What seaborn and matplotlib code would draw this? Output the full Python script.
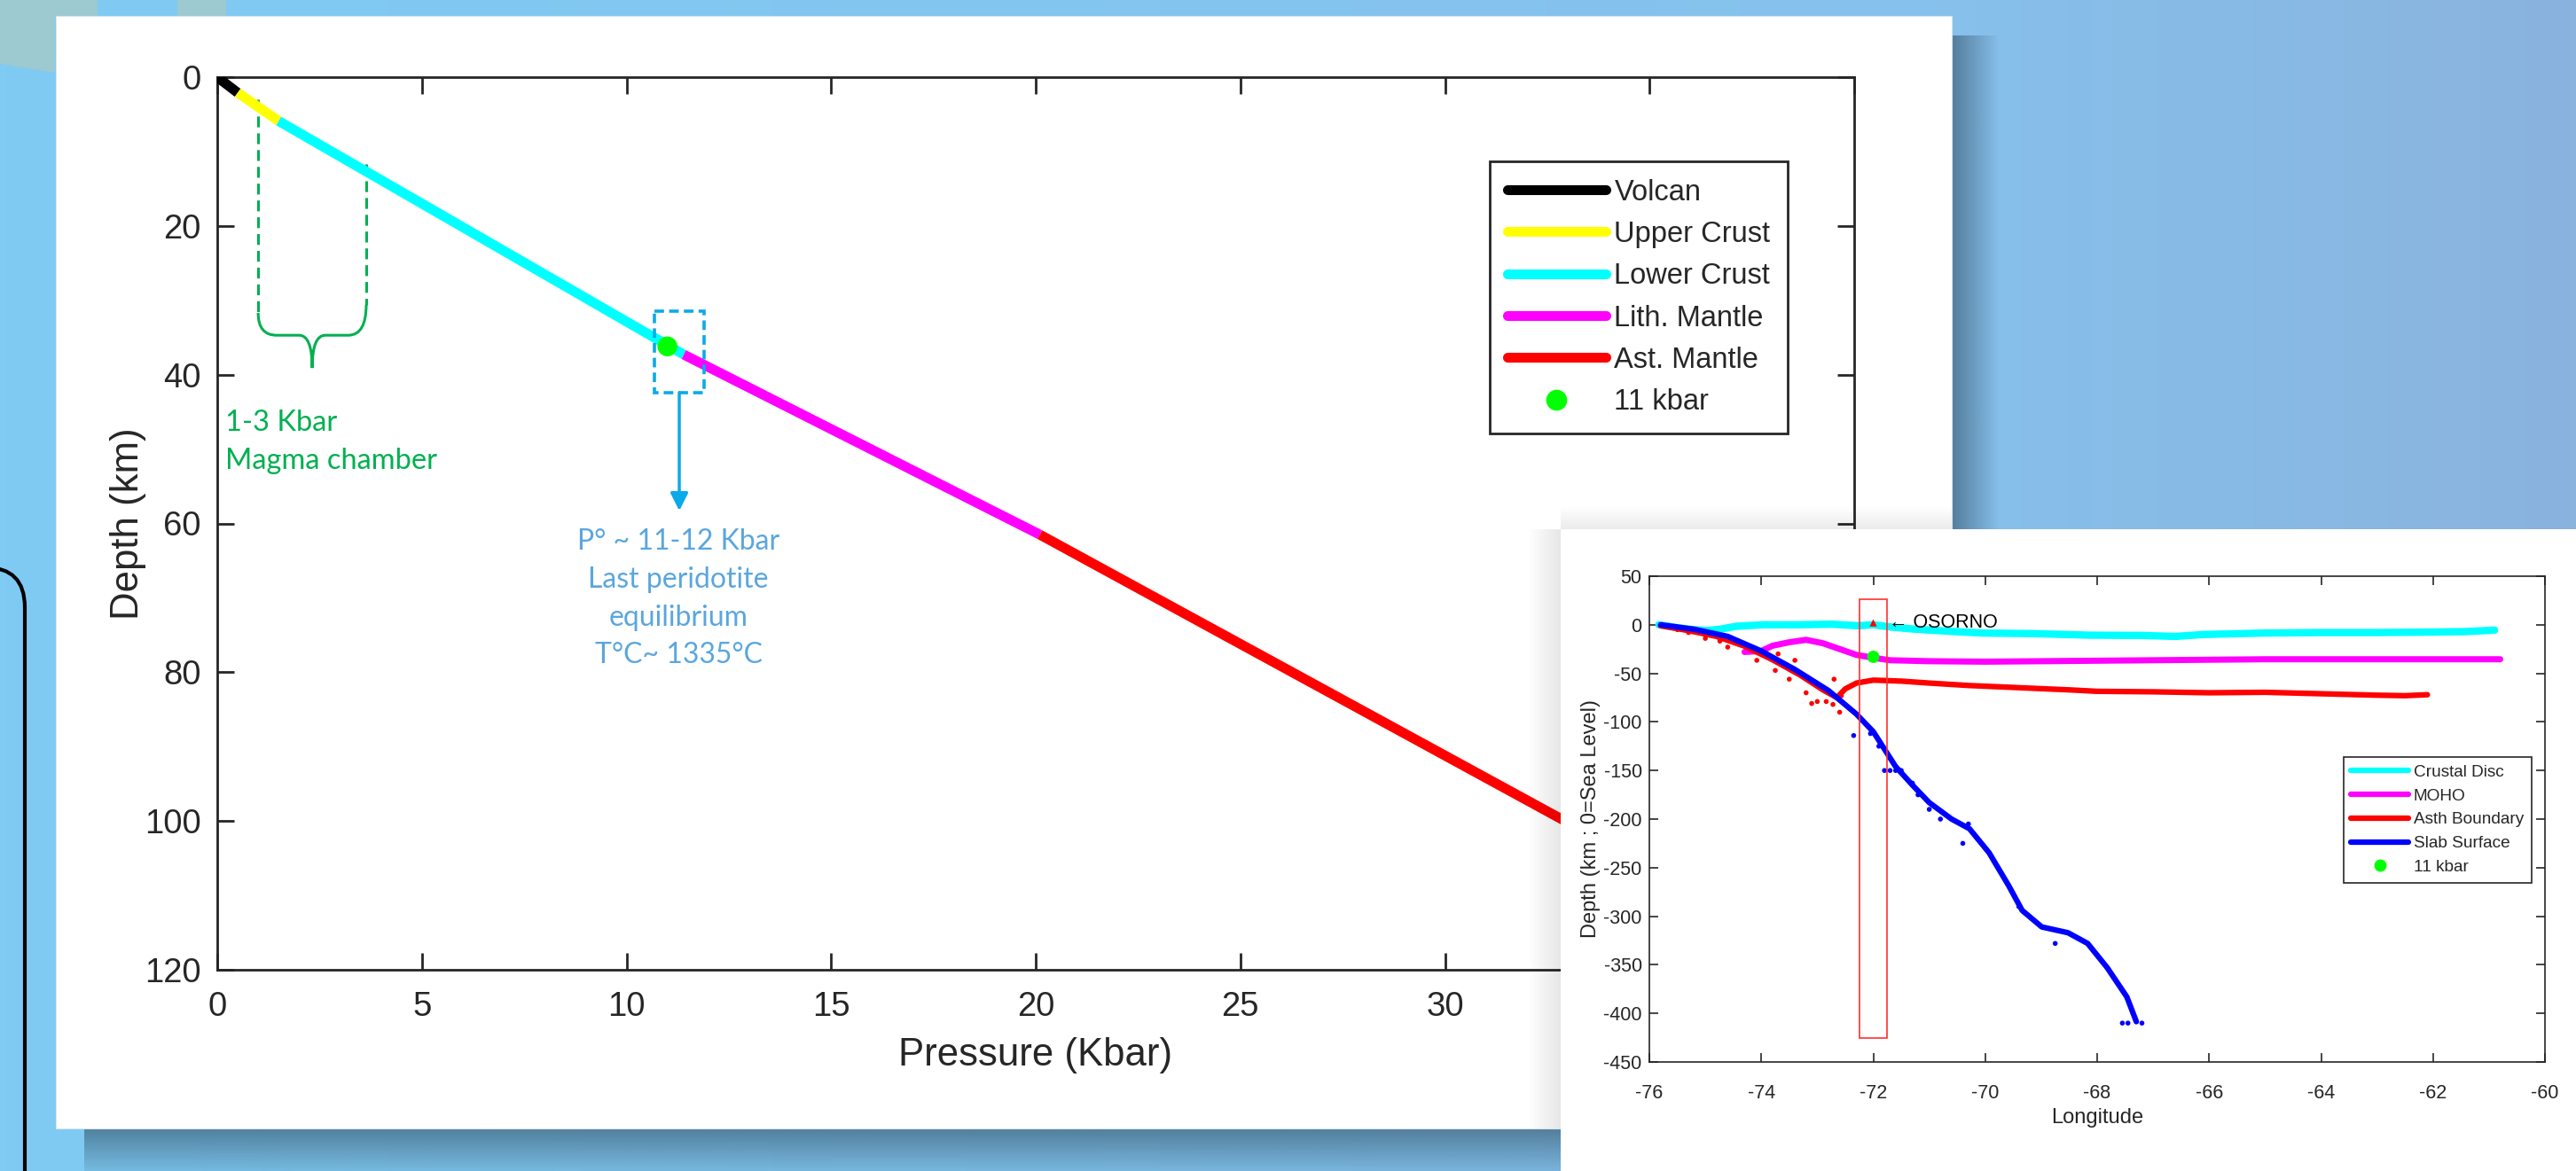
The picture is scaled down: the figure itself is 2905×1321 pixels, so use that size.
import numpy as np
import matplotlib
matplotlib.use("Agg")
import matplotlib.pyplot as plt
import seaborn as sns
from matplotlib.patches import Rectangle, FancyBboxPatch, PathPatch, Polygon
from matplotlib.path import Path
from matplotlib.lines import Line2D
from matplotlib.colors import to_rgb

# ------------------------------------------------------------------ data
# main chart: pressure (kbar) vs depth (km), one straight segment per layer
layer_names = ["Volcan", "Upper Crust", "Lower Crust", "Lith. Mantle", "Ast. Mantle"]
layer_colors = ["#000000", "#FFFF00", "#00FFFF", "#FF00FF", "#FF0000"]
layer_p_top = [0.0, 0.5, 1.5, 11.4, 20.1]
layer_p_bot = [0.5, 1.5, 11.4, 20.1, 39.6]
layer_d_top = [0.0, 2.1, 5.9, 37.3, 61.5]
layer_d_bot = [2.1, 5.9, 37.3, 61.5, 120.0]
point_p = [11.0]
point_d = [36.2]
main_xticks = [0, 5, 10, 15, 20, 25, 30, 35, 40]
# the labels of 35 and 40 sit under the inset panel in the reference
main_xticklabels = ["0", "5", "10", "15", "20", "25", "30", "", ""]
main_yticks = [0, 20, 40, 60, 80, 100, 120]

# inset chart: longitude vs depth (km; 0 = sea level)
crust_lon = [-75.83, -75.5, -75.28, -74.98, -74.74, -74.44, -73.96, -73.36, -72.75,
             -72.27, -72.0, -71.67, -71.25, -70.64, -70.04, -69.14, -68.13, -67.2,
             -66.6, -66.1, -65.0, -64.0, -63.0, -62.0, -61.4, -60.9]
crust_dep = [0.0, -3.0, -4.6, -6.0, -4.6, -1.5, 0.0, 0.0, 0.6,
             -1.0, 0.0, -2.4, -4.6, -6.7, -8.5, -9.1, -10.7, -11.0,
             -12.0, -10.0, -8.5, -8.0, -8.0, -7.5, -7.0, -5.5]
moho_lon = [-74.3, -74.0, -73.8, -73.5, -73.2, -72.9, -72.6, -72.3, -72.0, -71.7,
            -71.0, -70.0, -69.0, -68.0, -67.0, -66.0, -65.0, -64.0, -63.0, -62.0,
            -61.0, -60.8]
moho_dep = [-28.0, -27.0, -21.6, -18.0, -15.5, -19.0, -25.0, -31.0, -34.0, -36.5,
            -37.5, -38.0, -37.5, -37.0, -36.5, -36.0, -35.5, -35.5, -35.5, -35.5,
            -35.5, -35.5]
asth_lon = [-75.8, -75.3, -74.8, -74.3, -73.8, -73.3, -72.9, -72.65, -72.5, -72.3,
            -72.0, -71.5, -71.0, -70.3, -69.7, -69.1, -68.5, -68.0, -67.0, -66.0,
            -65.0, -64.0, -63.0, -62.5, -62.1]
asth_dep = [-1.0, -6.0, -12.0, -22.0, -36.0, -52.0, -67.0, -75.0, -66.0, -60.0,
            -57.0, -58.0, -60.0, -62.5, -64.0, -65.5, -67.0, -68.5, -69.0, -70.0,
            -69.5, -71.0, -72.5, -73.0, -72.0]
asth_pts_lon = [-75.5, -75.3, -75.0, -74.74, -74.6, -74.08, -73.75, -73.7, -73.5,
                -73.4, -73.3, -73.2, -73.1, -73.0, -72.84, -72.72, -72.6, -72.7, -72.57]
asth_pts_dep = [-5.0, -8.0, -14.0, -16.8, -23.0, -36.6, -47.0, -30.0, -56.0,
                -36.6, -50.0, -70.0, -81.0, -79.0, -79.0, -82.0, -90.0, -56.0, -73.0]
slab_lon = [-75.8, -75.2, -74.6, -74.0, -73.4, -72.8, -72.3, -72.0, -71.8, -71.6,
            -71.3, -71.0, -70.6, -70.28, -69.93, -69.58, -69.34, -68.99, -68.52,
            -68.17, -67.82, -67.47, -67.3]
slab_dep = [0.0, -4.6, -12.0, -27.0, -46.0, -67.7, -92.0, -110.0, -128.0, -146.0,
            -165.0, -183.0, -200.0, -210.0, -234.7, -268.6, -294.0, -311.0, -317.0,
            -328.0, -353.0, -383.0, -408.5]
slab_pts_lon = [-72.35, -72.05, -71.9, -71.8, -71.7, -71.6, -71.5, -71.3, -71.2,
                -71.0, -70.8, -70.3, -70.4, -69.4, -68.75, -67.55, -67.45, -67.2]
slab_pts_dep = [-114.0, -112.0, -125.0, -150.0, -150.0, -150.0, -150.0, -163.0, -175.0,
                -190.0, -200.0, -205.0, -225.0, -290.0, -328.0, -410.0, -410.0, -410.0]
inset_pt_lon = [-72.0]
inset_pt_dep = [-33.0]
osorno_lon = [-72.0]
osorno_dep = [2.0]
inset_xticks = [-76, -74, -72, -70, -68, -66, -64, -62, -60]
inset_yticks = [50, 0, -50, -100, -150, -200, -250, -300, -350, -400, -450]

# ------------------------------------------------------------------ style
sns.set_style("ticks")
plt.rcParams["font.family"] = ["Liberation Sans", "DejaVu Sans"]
plt.rcParams["axes.unicode_minus"] = False
DARK = "#262626"
W, H = 2905, 1321
fig = plt.figure(figsize=(W / 100, H / 100), dpi=100)


def frac(x0, y0, x1, y1):
    return [x0 / W, 1 - y1 / H, (x1 - x0) / W, (y1 - y0) / H]


# ------------------------------------------------------------------ slide background
bg = fig.add_axes([0, 0, 1, 1], zorder=0)
bg.set_xlim(0, W)
bg.set_ylim(H, 0)
bg.axis("off")
c_left, c_mid, c_right = np.array(to_rgb("#7FCBF4")), np.array(to_rgb("#86C1EC")), np.array(to_rgb("#8AB3DE"))
t = np.linspace(0, 1, 400)
grad = np.where(t[:, None] < 0.75,
                c_left + (c_mid - c_left) * (t[:, None] / 0.75),
                c_mid + (c_right - c_mid) * ((t[:, None] - 0.75) / 0.25))
bg.imshow(grad[None, :, :], extent=(0, W, H, 0), aspect="auto", zorder=0)
bg.add_patch(Polygon([(0, 0), (110, 0), (110, 20), (62, 20), (62, 82), (0, 72)],
                     closed=True, fc="#9DC9D1", ec="none", zorder=1))
bg.add_patch(Rectangle((200, 0), 55, 18, fc="#9DC9D1", ec="none", zorder=1))


def shadow(ax, x0, x1, y0, y1, horizontal, a0, a1, color="#2B4659", z=2):
    n = 64
    alpha = np.linspace(a0, a1, n)
    rgb = np.array(to_rgb(color))
    arr = np.zeros((n, 1, 4)) if not horizontal else np.zeros((1, n, 4))
    if horizontal:
        arr[0, :, :3] = rgb
        arr[0, :, 3] = alpha
    else:
        arr[:, 0, :3] = rgb
        arr[:, 0, 3] = alpha
    ax.imshow(arr, extent=(x0, x1, y1, y0), aspect="auto", interpolation="bilinear", zorder=z)


shadow(bg, 95, 2230, 1273, 1321, False, 0.55, 0.12)
shadow(bg, 2201, 2255, 40, 1300, True, 0.55, 0.0)
bg.add_patch(Rectangle((63, 18), 2201 - 63, 1273 - 18, fc="white", ec="#D8E6F0", lw=0.8, zorder=3))
bg.add_patch(FancyBboxPatch((-200, 640), 228, 900, boxstyle="round,pad=0,rounding_size=45",
                            fc="none", ec="black", lw=3, zorder=4))

# ------------------------------------------------------------------ main chart
ax = fig.add_axes(frac(245, 87, 2091, 1094), zorder=1)
ax.set_facecolor("white")
for name, col, p0, p1, d0, d1 in zip(layer_names, layer_colors, layer_p_top, layer_p_bot,
                                     layer_d_top, layer_d_bot):
    sns.lineplot(x=[p0, p1], y=[d0, d1], color=col, lw=8, ax=ax, sort=False,
                 estimator=None, legend=False, solid_capstyle="butt", zorder=3)
sns.scatterplot(x=point_p, y=point_d, color="#00FF00", s=260, edgecolor="none",
                ax=ax, legend=False, zorder=5)

ax.set_xlim(0, 40)
ax.set_ylim(120, 0)
ax.set_xticks(main_xticks)
ax.set_xticklabels(main_xticklabels)
ax.set_yticks(main_yticks)
for s in ax.spines.values():
    s.set_visible(True)
    s.set_linewidth(2)
    s.set_color(DARK)
ax.tick_params(direction="in", length=14, width=2, top=True, right=True,
               labelsize=27.5, colors=DARK)
ax.tick_params(axis="x", pad=17)
ax.tick_params(axis="y", pad=13)
ax.set_xlabel("Pressure (Kbar)", fontsize=31.5, color=DARK)
ax.set_ylabel("Depth (km)", fontsize=31.5, color=DARK)
ax.xaxis.set_label_coords(0.5, -0.075)
ax.yaxis.set_label_coords(-0.0433, 0.5)

handles = [Line2D([], [], color=c, lw=8) for c in layer_colors]
handles.append(Line2D([], [], color="#00FF00", marker="o", ls="", ms=16))
leg = ax.legend(handles, layer_names + ["11 kbar"], loc="upper left",
                bbox_to_anchor=(0.7774, 0.9057), borderaxespad=0, fontsize=23.5,
                handlelength=3.4, handletextpad=0.3, labelspacing=0.5, borderpad=0.6,
                fancybox=False, framealpha=1, edgecolor=DARK)
leg.get_frame().set_linewidth(2)
for txt in leg.get_texts():
    txt.set_color(DARK)

# annotations (green: magma chamber)
GREEN = "#00B050"
BLUE = "#0AAAE8"
TBLUE = "#5AA6DE"
ann_font = ["Lato", "DejaVu Sans"]
dash = (0, (4, 2.2))
ax.plot([1.0, 1.0], [3.0, 31.7], color=GREEN, lw=2.2, ls=dash, zorder=2)
ax.plot([3.64, 3.64], [11.7, 30.6], color=GREEN, lw=2.2, ls=dash, zorder=2)
brace = Path([(1.0, 31.7), (1.0, 34.7), (1.45, 34.7), (2.0, 34.7), (2.32, 34.7), (2.32, 39.1),
              (2.32, 39.1), (2.32, 34.7), (2.64, 34.7), (3.2, 34.7), (3.64, 34.7), (3.64, 30.6)],
             [Path.MOVETO, Path.CURVE3, Path.CURVE3, Path.LINETO, Path.CURVE3, Path.CURVE3,
              Path.MOVETO, Path.CURVE3, Path.CURVE3, Path.LINETO, Path.CURVE3, Path.CURVE3])
ax.add_patch(PathPatch(brace, fc="none", ec=GREEN, lw=2.2, zorder=2))
ax.text(0.2, 46.5, "1-3 Kbar", color=GREEN, fontsize=23.5, family=ann_font, ha="left", va="center")
ax.text(0.2, 51.6, "Magma chamber", color=GREEN, fontsize=23.5, family=ann_font, ha="left", va="center")

# annotations (blue: last equilibrium)
ax.add_patch(Rectangle((10.68, 31.5), 1.22, 10.9, fill=False, ec=BLUE, lw=2.6,
                       ls=(0, (3, 1.6)), zorder=4))
ax.annotate("", xy=(11.29, 58.3), xytext=(11.29, 42.4),
            arrowprops=dict(arrowstyle="-|>", color=BLUE, lw=2.5, mutation_scale=30,
                            shrinkA=0, shrinkB=0))
for txt, d in zip(["P° ~ 11-12 Kbar", "Last peridotite", "equilibrium", "T°C~ 1335°C"],
                  [62.5, 67.6, 72.7, 77.7]):
    ax.text(11.27, d, txt, color=TBLUE, fontsize=23, family=ann_font, ha="center", va="center")

# ------------------------------------------------------------------ inset panel
fg = fig.add_axes([0, 0, 1, 1], zorder=2)
fg.set_xlim(0, W)
fg.set_ylim(H, 0)
fg.axis("off")
fg.patch.set_alpha(0)
shadow(fg, 1722, 1760, 597, 1273, True, 0.0, 0.10, color="#000000")
shadow(fg, 1760, 2201, 570, 597, False, 0.0, 0.08, color="#000000")
fg.add_patch(Rectangle((1760, 597), W - 1760, H - 597, fc="white", ec="none", zorder=3))

ax2 = fig.add_axes(frac(1860, 650, 2870, 1198), zorder=3)
ax2.set_facecolor("white")
sns.lineplot(x=crust_lon, y=crust_dep, color="#00FFFF", lw=6, sort=False, estimator=None,
             ax=ax2, legend=False, zorder=2)
sns.lineplot(x=moho_lon, y=moho_dep, color="#FF00FF", lw=5, sort=False, estimator=None,
             ax=ax2, legend=False, zorder=2)
sns.lineplot(x=asth_lon, y=asth_dep, color="#FF0000", lw=4.5, sort=False, estimator=None,
             ax=ax2, legend=False, zorder=3)
sns.scatterplot(x=asth_pts_lon, y=asth_pts_dep, color="#FF0000", s=16, edgecolor="none",
                ax=ax2, legend=False, zorder=3)
sns.lineplot(x=slab_lon, y=slab_dep, color="#0000FF", lw=4.5, sort=False, estimator=None,
             ax=ax2, legend=False, zorder=4)
sns.scatterplot(x=slab_pts_lon, y=slab_pts_dep, color="#0000FF", s=16, edgecolor="none",
                ax=ax2, legend=False, zorder=4)
sns.scatterplot(x=inset_pt_lon, y=inset_pt_dep, color="#00FF00", s=100, edgecolor="none",
                ax=ax2, legend=False, zorder=6)
sns.scatterplot(x=osorno_lon, y=osorno_dep, color="#FF0000", marker="^", s=35,
                edgecolor="none", ax=ax2, legend=False, zorder=6)
ax2.text(-71.72, 2, "\u2190 OSORNO", fontsize=15.5, color="black", va="center", ha="left",
         family=["Liberation Sans", "DejaVu Sans"])
ax2.add_patch(Rectangle((-72.25, -425), 0.5, 451, fill=False, ec="#FF3030", lw=1.2, zorder=5))

ax2.set_xlim(-76, -60)
ax2.set_ylim(-450, 50)
ax2.set_xticks(inset_xticks)
ax2.set_yticks(inset_yticks)
for s in ax2.spines.values():
    s.set_visible(True)
    s.set_linewidth(1.2)
    s.set_color(DARK)
ax2.tick_params(direction="in", length=7, width=1.2, top=True, right=True,
                labelsize=15.5, colors=DARK)
ax2.tick_params(axis="x", pad=18)
ax2.tick_params(axis="y", pad=6)
ax2.set_xlabel("Longitude", fontsize=17, color=DARK)
ax2.set_ylabel("Depth (km ; 0=Sea Level)", fontsize=17, color=DARK)
ax2.xaxis.set_label_coords(0.5, -0.095)
ax2.yaxis.set_label_coords(-0.0545, 0.5)

inset_names = ["Crustal Disc", "MOHO", "Asth Boundary", "Slab Surface", "11 kbar"]
inset_handles = [Line2D([], [], color=c, lw=4.5) for c in ["#00FFFF", "#FF00FF", "#FF0000", "#0000FF"]]
inset_handles.append(Line2D([], [], color="#00FF00", marker="o", ls="", ms=9))
leg2 = ax2.legend(inset_handles, inset_names, loc="upper left", bbox_to_anchor=(0.775, 0.628),
                  borderaxespad=0, fontsize=13.7, handlelength=3.4, handletextpad=0.3,
                  labelspacing=0.5, borderpad=0.45, fancybox=False, framealpha=1, edgecolor=DARK)
leg2.get_frame().set_linewidth(1.2)

fig.savefig("out.png", dpi=100)
